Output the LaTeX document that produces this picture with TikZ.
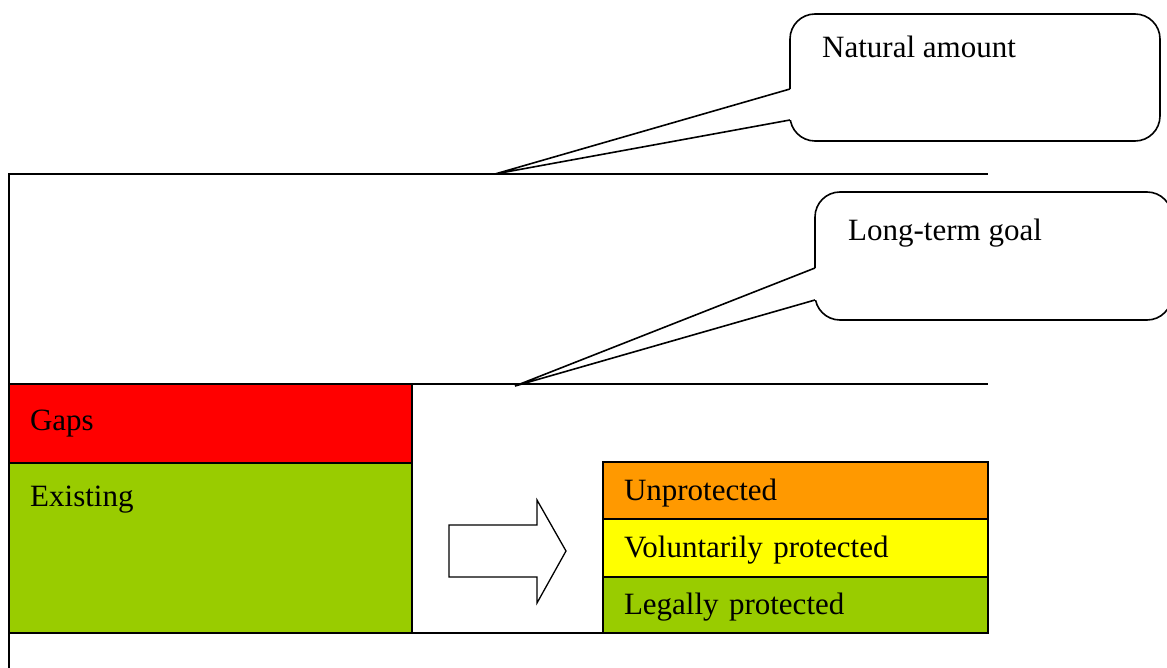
\documentclass[tikz,border=0pt]{standalone}
\usepackage{fontspec}
\setmainfont{Liberation Serif}
\usetikzlibrary{positioning,calc}
\definecolor{gapred}{HTML}{FF0000}
\definecolor{okgreen}{HTML}{99CC00}
\definecolor{unprotorange}{HTML}{FF9900}
\definecolor{volyellow}{HTML}{FFFF00}
\begin{document}
\begin{tikzpicture}[x=1pt,y=-1pt,
  rule/.style={line width=1.6pt},
  row/.style={draw,line width=1.6pt,anchor=north west,inner xsep=21pt,inner ysep=0pt,
    outer sep=0pt,align=left,font=\fontsize{31}{37}\selectfont},
  stackrow/.style={row,text width=343pt,text height=26pt,text depth=7pt},
  balloon/.style={draw,line width=1.6pt,rounded corners=25pt,fill=white,outer sep=0pt},
  lbl/.style={font=\fontsize{31}{37}\selectfont,inner sep=0pt,anchor=base west}]
\useasboundingbox (0,0) rectangle (1167,668);
\clip (0,0) rectangle (1167,668);
% axis and levels
\coordinate (top) at (9,174);
\coordinate (foot) at (9,668);
\coordinate (natend) at (988,174);
\coordinate (goalend) at (988,384);
\draw[rule] (foot) -- (top) -- (natend);
% today
\node[row,fill=gapred,text width=361pt,minimum height=79pt] (gaps) at (9,384) {Gaps};
\node[row,fill=okgreen,text width=361pt,minimum height=170pt,below=0pt of gaps] (existing) {};
\node[lbl] at ($(existing.north west)+(21,43)$) {Existing};
\draw[rule] (gaps.north east) -- (goalend);
% protection status
\node[stackrow,fill=unprotorange,minimum height=57pt] (unprot) at (603,462) {Unprotected};
\node[stackrow,fill=volyellow,minimum height=58pt,below=0pt of unprot] (vol) {Voluntarily protected};
\node[stackrow,fill=okgreen,minimum height=56pt,below=0pt of vol] (legal) {Legally protected};
\draw[rule] (existing.south east) -- (legal.south west);
% block arrow
\draw[line width=1.3pt,fill=white] (449,525) -- (537,525) -- (537,500) -- (566,551)
  -- (537,603) -- (537,577) -- (449,577) -- cycle;
% callouts
\node[balloon,minimum width=370pt,minimum height=127pt] (natural) at (975,77.5) {};
\node[lbl] at ($(natural.north west)+(32,44)$) {Natural amount};
\coordinate (naturaltip) at (495,174);
\draw[white,line width=3pt] ($(natural.north west)+(0,75)$) -- ($(natural.north west)+(0,106)$);
\draw[rule] ($(natural.north west)+(0,75)$) -- (naturaltip) -- ($(natural.north west)+(0,106)$);
\node[balloon,minimum width=357pt,minimum height=128pt] (goal) at (993.5,256) {};
\node[lbl] at ($(goal.north west)+(33,49)$) {Long-term goal};
\coordinate (goaltip) at (515,386);
\draw[white,line width=3pt] ($(goal.north west)+(0,76)$) -- ($(goal.north west)+(0,108)$);
\draw[rule] ($(goal.north west)+(0,76)$) -- (goaltip) -- ($(goal.north west)+(0,108)$);
\end{tikzpicture}
\end{document}
